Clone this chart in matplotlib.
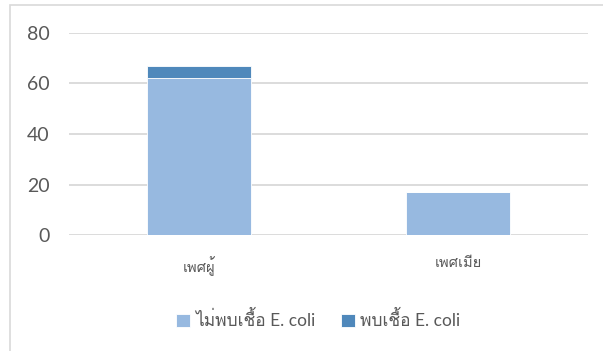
import matplotlib
matplotlib.use("Agg")
import matplotlib.pyplot as plt
from matplotlib import font_manager
from matplotlib.ft2font import FT2Font
from matplotlib.patches import Rectangle

categories = ["เพศผู้", "เพศเมีย"]
not_found = [62, 17]
found = [5, 0]
series_names = ["ไม่พบเชื้อ E. coli", "พบเชื้อ E. coli"]
yticks = [0, 20, 40, 60, 80]

light = "#97B9E0"
dark = "#4F88BB"
grey = "#595959"


def thai_font():
    # look for any installed face that has Thai glyphs
    for f in font_manager.fontManager.ttflist:
        try:
            cmap = FT2Font(f.fname).get_charmap()
        except Exception:
            continue
        if 0x0E1E in cmap and 0x0E40 in cmap:
            return f.name
    return None


fams = ["Lato", "DejaVu Sans"]
th = thai_font()
if th:
    fams.insert(1, th)
plt.rcParams["font.family"] = fams

fig = plt.figure(figsize=(6.03, 3.51), dpi=100)
fig.patches.append(Rectangle((10 / 603, -0.1), 1.2, 1 - 5 / 351 + 0.1,
                             transform=fig.transFigure, fill=False,
                             edgecolor="#D9D9D9", linewidth=1.2))
ax = fig.add_axes([69 / 603, 1 - 235 / 351, (588 - 69) / 603, (235 - 33) / 351])

x = range(len(categories))
ax.bar(x, not_found, width=0.4, color=light, edgecolor="white", linewidth=0.6,
       label=series_names[0], zorder=3)
ax.bar(x, found, width=0.4, bottom=not_found, color=dark, edgecolor="white",
       linewidth=0.6, label=series_names[1], zorder=3)

ax.set_xlim(-0.5, 1.5)
ax.set_ylim(0, 80)
ax.set_yticks(yticks)
ax.set_xticks(list(x))
ax.set_xticklabels(categories, fontsize=10.5, color=grey)
ax.tick_params(axis="y", length=0, pad=14, labelsize=14, labelcolor=grey)
ax.tick_params(axis="x", length=0, pad=15)
ax.grid(axis="y", color="#D9D9D9", linewidth=1.3, zorder=0)
for s in ax.spines.values():
    s.set_visible(False)

ax.legend(loc="center", bbox_to_anchor=(0.48, -0.42), ncol=2, frameon=False,
          fontsize=12.5, labelcolor=grey, handlelength=0.8, handleheight=0.8,
          handletextpad=0.3, columnspacing=1.5)

fig.savefig("out.png", dpi=100)
